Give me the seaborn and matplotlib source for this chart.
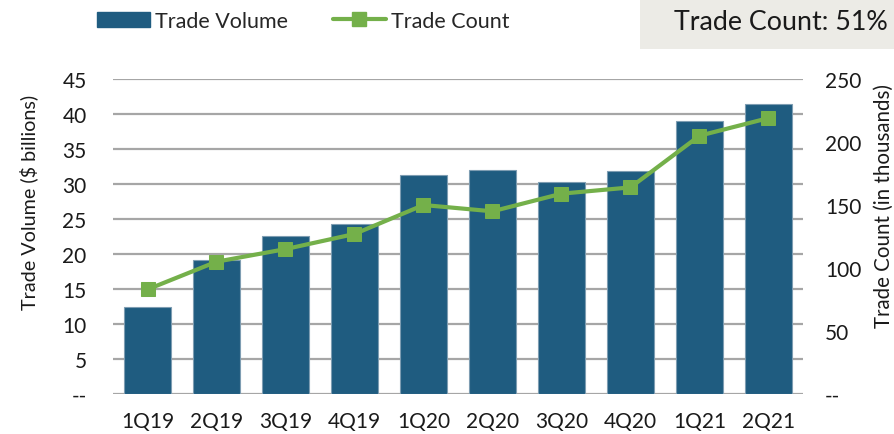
import numpy as np
import matplotlib
matplotlib.use("Agg")
import matplotlib.pyplot as plt
import seaborn as sns
from matplotlib.patches import Patch, Rectangle
from matplotlib.lines import Line2D

quarters = ['1Q19', '2Q19', '3Q19', '4Q19', '1Q20', '2Q20', '3Q20', '4Q20', '1Q21', '2Q21']
trade_volume = [12.4, 19.2, 22.6, 24.3, 31.3, 32.0, 30.3, 31.9, 39.0, 41.4]      # $ billions
trade_count = [83, 105, 115, 127, 150, 145, 159, 164, 205, 219]                  # thousands
left_ticks = [0, 5, 10, 15, 20, 25, 30, 35, 40, 45]
left_labels = ['--', '5', '10', '15', '20', '25', '30', '35', '40', '45']
right_ticks = [0, 50, 100, 150, 200, 250]
right_labels = ['--', '50', '100', '150', '200', '250']

BLUE = '#1F5C80'
GREEN = '#74B04A'
GRID = '#A6A6A6'
INK = '#1A1A1A'

sns.set_style('white')
plt.rcParams['font.family'] = ['Lato', 'DejaVu Sans']

fig = plt.figure(figsize=(8.94, 4.35), dpi=100)
ax = fig.add_axes([0.1264, 0.092, 0.7718, 0.724])

sns.barplot(x=quarters, y=trade_volume, color=BLUE, width=0.667,
            edgecolor='#7E9DB2', linewidth=0.8, saturation=1, ax=ax, zorder=2)
ax.set_xlim(-0.5, len(quarters) - 0.5)
ax.set_ylim(0, 45)
ax.set_yticks(left_ticks)
ax.set_yticklabels(left_labels)
ax.yaxis.grid(True, color=GRID, linewidth=1.6, zorder=0)
ax.set_axisbelow(True)
ax.set_xlabel('')
ax.tick_params(axis='y', length=0, labelsize=15, colors=INK, pad=19)
ax.tick_params(axis='x', length=0, labelsize=15, colors=INK, pad=12)
ax.set_ylabel('Trade Volume ($ billions)', fontsize=14.2, color=INK)
ax.yaxis.set_label_coords(-0.108, 0.61)
sns.despine(ax=ax, left=True, bottom=True)

ax2 = ax.twinx()
sns.lineplot(x=np.arange(len(quarters)), y=trade_count, color=GREEN, linewidth=3,
             marker='s', markersize=10, markeredgecolor=GREEN, ax=ax2, zorder=3)
ax2.set_ylim(0, 250)
ax2.set_yticks(right_ticks)
ax2.set_yticklabels(right_labels)
ax2.tick_params(axis='y', length=0, labelsize=15, colors=INK, pad=16)
ax2.set_ylabel('Trade Count (in thousands)', fontsize=14.8, color=INK)
ax2.yaxis.set_label_coords(1.102, 0.60)
for s in ax2.spines.values():
    s.set_visible(False)

handles = [Patch(facecolor=BLUE, edgecolor=BLUE),
           Line2D([0], [0], color=GREEN, linewidth=3, marker='s', markersize=10)]
fig.legend(handles, ['Trade Volume', 'Trade Count'], loc='center left',
           bbox_to_anchor=(86 / 894, 1 - 22 / 435), ncol=2, frameon=False,
           fontsize=15.5, borderpad=0, handlelength=2.45, handletextpad=0.25,
           columnspacing=2.1)

fig.patches.append(Rectangle((640 / 894, 1 - 50 / 435), 1 - 640 / 894, 50 / 435,
                             transform=fig.transFigure, facecolor='#ECEBE6',
                             edgecolor='none', zorder=0))
fig.text(781 / 894, 1 - 23 / 435, 'Trade Count: 51%', fontsize=19.3,
         ha='center', va='center', color=INK)

fig.savefig('out.png', dpi=100)
